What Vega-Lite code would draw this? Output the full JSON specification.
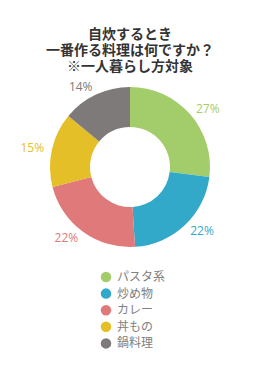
{
  "$schema": "https://vega.github.io/schema/vega-lite/v6.json",
  "width": 160,
  "height": 160,
  "autosize": {"type": "none"},
  "padding": {"left": 50, "top": 87, "right": 50, "bottom": 123},
  "background": "white",
  "title": {
    "text": ["自炊するとき", "一番作る料理は何ですか？", "※一人暮らし方対象"],
    "font": "Noto Sans CJK JP",
    "fontSize": 14,
    "fontWeight": "bold",
    "color": "#333333",
    "lineHeight": 16,
    "anchor": "middle",
    "frame": "group",
    "offset": 7
  },
  "data": {
    "values": [
      {"category": "パスタ系", "value": 27, "label": "27%", "order": 1},
      {"category": "炒め物", "value": 22, "label": "22%", "order": 2},
      {"category": "カレー", "value": 22, "label": "22%", "order": 3},
      {"category": "丼もの", "value": 15, "label": "15%", "order": 4},
      {"category": "鍋料理", "value": 14, "label": "14%", "order": 5}
    ]
  },
  "encoding": {
    "theta": {"field": "value", "type": "quantitative", "stack": true},
    "order": {"field": "order", "type": "quantitative"},
    "color": {
      "field": "category",
      "type": "nominal",
      "sort": ["パスタ系", "炒め物", "カレー", "丼もの", "鍋料理"],
      "scale": {
        "domain": ["パスタ系", "炒め物", "カレー", "丼もの", "鍋料理"],
        "range": ["#a3cd6a", "#32a9c9", "#e07a7a", "#e5bf27", "#7e7a79"]
      },
      "legend": {
        "title": null,
        "orient": "none",
        "legendX": 50,
        "legendY": 184,
        "direction": "vertical",
        "symbolType": "circle",
        "symbolSize": 110,
        "symbolStrokeWidth": 0,
        "labelFont": "Noto Sans CJK JP",
        "labelFontSize": 12,
        "labelColor": "#808080",
        "rowPadding": 4.6,
        "labelOffset": 5
      }
    }
  },
  "layer": [
    {"mark": {"type": "arc", "outerRadius": 80, "innerRadius": 40}},
    {
      "mark": {
        "type": "text",
        "radius": 88,
        "font": "Open Sans",
        "fontSize": 12,
        "align": {"expr": "datum.order <= 2 ? 'left' : 'right'"},
        "baseline": "middle"
      },
      "encoding": {"text": {"field": "label", "type": "nominal"}}
    }
  ],
  "config": {"view": {"stroke": null}}
}
